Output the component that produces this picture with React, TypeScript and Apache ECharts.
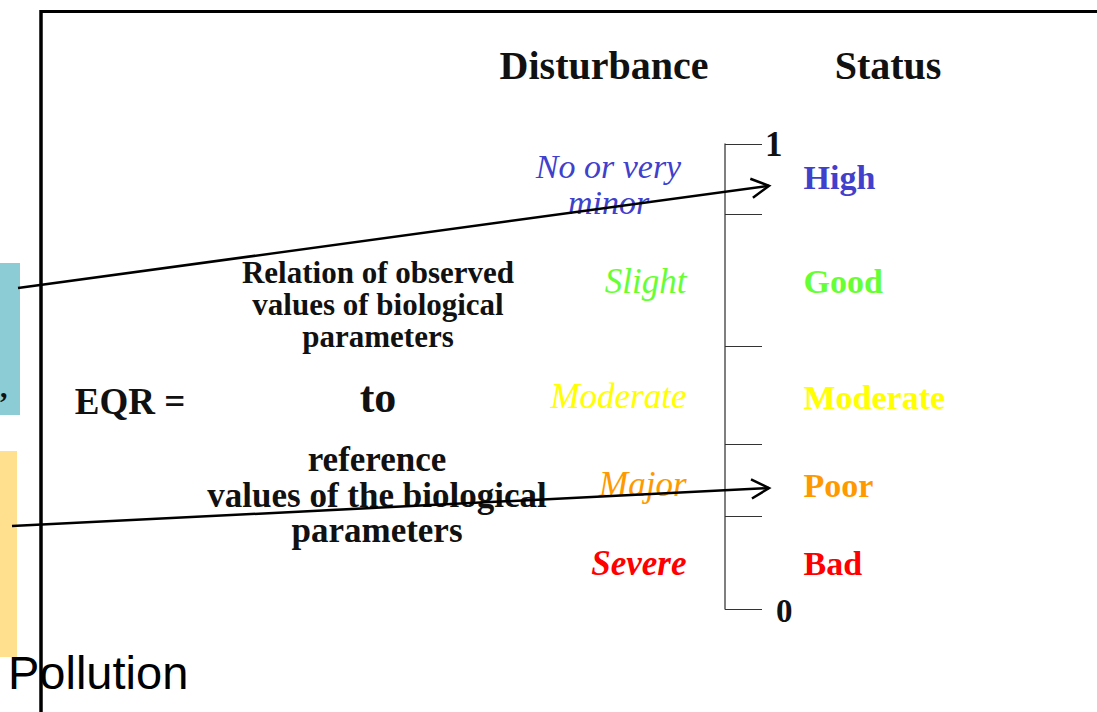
import React, { useEffect, useRef } from "react";
import * as echarts from "echarts";

// ---- data ----
const statusClasses = ["High", "Good", "Moderate", "Poor", "Bad"];
const statusLabelEQR = [0.929, 0.705, 0.454, 0.265, 0.097];
const disturbanceClasses = ["No or very\nminor", "Slight", "Moderate", "Major", "Severe"];
const disturbanceLabelEQR = [0.912, 0.705, 0.458, 0.267, 0.097];
const classBoundaries = [0, 0.2, 0.355, 0.565, 0.85, 1];
const scaleEndLabels = [0, 1];
const arrowTargetEQR = [0.91, 0.26];

// ---- styles ----
const classColors = ["#4040cc", "#66ff33", "#ffff00", "#ff9900", "#ff0000"];
const SERIF = "'Liberation Serif', 'Times New Roman', serif";
const SANS = "'Liberation Sans', Arial, sans-serif";
const arrowStarts = [
  [18, 288],
  [12, 526],
];

export default function App() {
  const ref = useRef<HTMLDivElement>(null);
  useEffect(() => {
    if (!ref.current) return;
    const chart = echarts.init(ref.current, null, { renderer: "svg" });
    const option: any = {
      animation: false,
      grid: { left: 725, top: 144, width: 40, height: 465 },
      xAxis: { type: "value", min: 0, max: 1, show: false },
      yAxis: {
        type: "value",
        min: 0,
        max: 1,
        position: "left",
        splitLine: { show: false },
        axisLine: { show: true, lineStyle: { color: "#555", width: 1.5 } },
        axisTick: {
          show: true,
          inside: true,
          length: 37,
          customValues: classBoundaries,
          lineStyle: { color: "#333", width: 1.2 },
        },
        axisLabel: {
          show: true,
          inside: true,
          margin: 40,
          customValues: scaleEndLabels,
          formatter: (v: number) => (v === 0 ? "{z|0}" : "{o|1}"),
          rich: {
            z: { fontFamily: SERIF, fontWeight: "bold", fontSize: 33, color: "#111", padding: [4, 0, 0, 11] },
            o: { fontFamily: SERIF, fontWeight: "bold", fontSize: 35, color: "#111" },
          },
        },
      },
      series: [
        {
          type: "scatter",
          name: "Status",
          symbolSize: 1,
          itemStyle: { color: "transparent", opacity: 1 },
          emphasis: { disabled: true },
          data: statusClasses.map((name, i) => ({
            name,
            value: [0, statusLabelEQR[i]],
            label: { color: classColors[i] },
          })),
          label: {
            show: true,
            position: "right",
            distance: 78,
            formatter: "{b}",
            fontFamily: SERIF,
            fontWeight: "bold",
            fontSize: 34,
            verticalAlign: "middle",
          },
        },
        {
          type: "scatter",
          name: "Disturbance",
          symbolSize: 1,
          itemStyle: { color: "transparent", opacity: 1 },
          emphasis: { disabled: true },
          data: disturbanceClasses.map((name, i) => {
            const lbl: any = { color: classColors[i] };
            if (i === 0) {
              lbl.align = "center";
              lbl.offset = [-78, 0];
              lbl.fontSize = 34;
              lbl.lineHeight = 36;
            }
            if (i === 4) lbl.fontWeight = "bold";
            return { name, value: [0, disturbanceLabelEQR[i]], label: lbl };
          }),
          label: {
            show: true,
            position: "left",
            distance: 38,
            formatter: "{b}",
            fontFamily: SERIF,
            fontStyle: "italic",
            fontSize: 35,
            verticalAlign: "middle",
          },
        },
      ],
    };
    chart.setOption(option);

    const graphics: any[] = [];
    // decorative side boxes
    graphics.push({ type: "rect", shape: { x: 0, y: 263, width: 20, height: 152 }, style: { fill: "#8ccdd5" }, z: 1 });
    graphics.push({ type: "rect", shape: { x: 0, y: 451, width: 17, height: 206 }, style: { fill: "#ffe08f" }, z: 1 });
    graphics.push({
      type: "text", x: 0, y: 386, z: 2,
      style: { text: ",", fontFamily: SERIF, fontWeight: "bold", fontSize: 30, fill: "#111", align: "left", verticalAlign: "middle" },
    });
    graphics.push({
      type: "text", x: 8, y: 672, z: 2,
      style: { text: "Pollution", fontFamily: SANS, fontSize: 47, fill: "#000", align: "left", verticalAlign: "middle" },
    });
    // frame
    graphics.push({ type: "line", shape: { x1: 40, y1: 11.5, x2: 1097, y2: 11.5 }, style: { stroke: "#000", lineWidth: 3 }, z: 5 });
    graphics.push({ type: "line", shape: { x1: 41, y1: 10, x2: 41, y2: 712 }, style: { stroke: "#000", lineWidth: 3.5 }, z: 5 });

    const t = (text: string, x: number, y: number, size: number, extra: any = {}) => ({
      type: "text", x, y, z: 3,
      style: { text, fontFamily: SERIF, fontWeight: "bold", fontSize: size, fill: "#111", align: "center", verticalAlign: "middle", ...extra },
    });
    graphics.push(t("Disturbance", 604, 65, 40));
    graphics.push(t("Status", 888, 65, 40));
    graphics.push(t("Relation of observed\nvalues of biological\nparameters", 378, 304, 31, { lineHeight: 32 }));
    graphics.push(t("to", 378, 397, 44));
    graphics.push(t("reference\nvalues of the biological\nparameters", 377, 495, 35, { lineHeight: 35.5 }));
    graphics.push(t("EQR =", 130, 401, 37));

    // arrows
    arrowTargetEQR.forEach((v, i) => {
      const p = chart.convertToPixel({ xAxisIndex: 0, yAxisIndex: 0 }, [0, v]) as number[];
      const tip = [769, p[1]];
      const s = arrowStarts[i];
      const ang = Math.atan2(s[1] - tip[1], s[0] - tip[0]);
      const L = 20;
      const a1 = ang + 0.5;
      const a2 = ang - 0.5;
      graphics.push({
        type: "line", z: 20,
        shape: { x1: s[0], y1: s[1], x2: tip[0], y2: tip[1] },
        style: { stroke: "#000", lineWidth: 2.5 },
      });
      graphics.push({
        type: "polyline", z: 20,
        shape: {
          points: [
            [tip[0] + L * Math.cos(a1), tip[1] + L * Math.sin(a1)],
            tip,
            [tip[0] + L * Math.cos(a2), tip[1] + L * Math.sin(a2)],
          ],
        },
        style: { stroke: "#000", lineWidth: 2.5, fill: "none" },
      });
    });
    chart.setOption({ graphic: graphics });

    return () => chart.dispose();
  }, []);
  return <div ref={ref} style={{ position: "fixed", left: 0, top: 0, width: 1097, height: 712, background: "#fff" }} />;
}
